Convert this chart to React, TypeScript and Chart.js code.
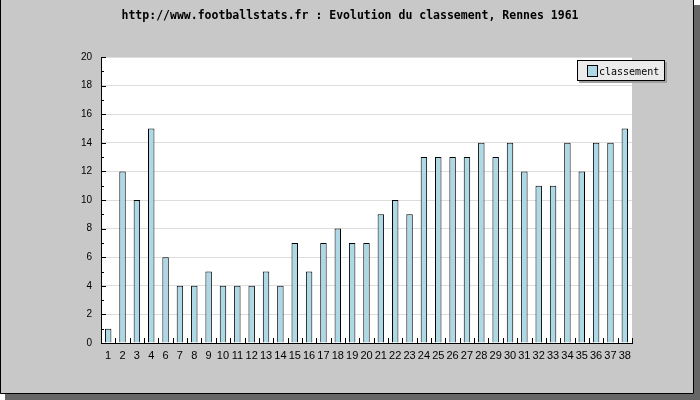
import { useEffect, useRef } from "react";
import { Chart, registerables } from "chart.js";

Chart.register(...registerables);

const titleText = "http://www.footballstats.fr : Evolution du classement, Rennes 1961";
const seriesName = "classement";
const rounds = [
  "1", "2", "3", "4", "6", "7", "8", "9", "10", "11", "12", "13", "14", "15", "16", "17", "18", "19", "20",
  "21", "22", "23", "24", "25", "26", "27", "28", "29", "30", "31", "32", "33", "34", "35", "36", "37", "38",
];
const classement = [
  1, 12, 10, 15, 6, 4, 4, 5, 4, 4, 4, 5, 4, 7, 5, 7, 8, 7, 7, 9, 10, 9, 13, 13, 13, 13, 14, 13, 14, 12, 11, 11,
  14, 12, 14, 14, 15,
];
const yMin = 0;
const yMax = 20;
const yStep = 2;

const BAR_FILL = "#add8e6";
const BG = "#c8c8c8";

const framePlugin = {
  id: "framePlugin",
  beforeDraw(chart: any) {
    const ctx = chart.ctx;
    const W = chart.width;
    const H = chart.height;
    const ca = chart.chartArea;
    ctx.save();
    ctx.fillStyle = "#ffffff";
    ctx.fillRect(0, 0, W, H);
    // shadow
    ctx.fillStyle = "#666666";
    ctx.fillRect(5, H - 6, W - 5, 6);
    ctx.fillRect(W - 6, 5, 6, H - 5);
    // background
    ctx.fillStyle = BG;
    ctx.fillRect(0, 0, W - 6, H - 6);
    ctx.strokeStyle = "#000000";
    ctx.lineWidth = 1;
    ctx.beginPath();
    ctx.moveTo(0.5, 0);
    ctx.lineTo(0.5, H - 6.5);
    ctx.lineTo(W - 6.5, H - 6.5);
    ctx.lineTo(W - 6.5, 0);
    ctx.stroke();
    // plot area
    ctx.fillStyle = "#ffffff";
    ctx.fillRect(ca.left, ca.top, ca.right - ca.left, ca.bottom - ca.top);
    ctx.restore();
  },
  afterDraw(chart: any) {
    const ctx = chart.ctx;
    const ca = chart.chartArea;
    const ys = chart.scales.y;
    const xs = chart.scales.x;
    ctx.save();
    ctx.strokeStyle = "#000000";
    ctx.lineWidth = 1;
    ctx.beginPath();
    for (let v = yMin; v <= yMax; v += 1) {
      const y = Math.round(ys.getPixelForValue(v)) + 0.5;
      const len = v % yStep === 0 ? 5 : 3;
      ctx.moveTo(ca.left, y);
      ctx.lineTo(ca.left + len, y);
    }
    const n = rounds.length;
    for (let i = 1; i <= n; i++) {
      let x: number;
      if (i === n) x = ca.right;
      else x = (xs.getPixelForTick(i - 1) + xs.getPixelForTick(i)) / 2;
      x = Math.round(x) + 0.5;
      ctx.moveTo(x, ca.bottom);
      ctx.lineTo(x, ca.bottom - 5);
    }
    ctx.stroke();

    // title
    ctx.fillStyle = "#000000";
    ctx.font = "bold 11.5px 'DejaVu Sans Mono'";
    ctx.textAlign = "center";
    ctx.textBaseline = "alphabetic";
    ctx.fillText(titleText, 350, 19);

    // legend
    const lx = 577, ly = 60, lw = 88, lh = 21;
    ctx.fillStyle = "#a0a0a0";
    ctx.fillRect(lx + 2, ly + 2, lw, lh);
    ctx.fillStyle = "#ebebeb";
    ctx.fillRect(lx, ly, lw, lh);
    ctx.strokeStyle = "#000000";
    ctx.strokeRect(lx + 0.5, ly + 0.5, lw - 1, lh - 1);
    ctx.fillStyle = BAR_FILL;
    ctx.fillRect(587, 65, 10, 11);
    ctx.strokeRect(587.5, 65.5, 10, 11);
    ctx.fillStyle = "#000000";
    ctx.font = "10px 'DejaVu Sans Mono'";
    ctx.textAlign = "left";
    ctx.fillText(seriesName, 599, 75);
    ctx.restore();
  },
};

export default function App() {
  const ref = useRef<HTMLCanvasElement>(null);
  useEffect(() => {
    if (!ref.current) return;
    const chart = new Chart(ref.current, {
      type: "bar",
      data: {
        labels: rounds,
        datasets: [
          {
            label: seriesName,
            data: classement,
            backgroundColor: BAR_FILL,
            borderColor: "#000000",
            borderWidth: 1,
            barPercentage: 0.45,
            categoryPercentage: 1,
          },
        ],
      },
      options: {
        animation: false,
        responsive: false,
        devicePixelRatio: 1,
        layout: { padding: { left: 0, top: 57, right: 68, bottom: 0 } },
        plugins: {
          legend: { display: false },
          title: { display: false },
          tooltip: { enabled: false },
        },
        scales: {
          x: {
            grid: { display: true, drawOnChartArea: false, drawTicks: false, color: "rgba(0,0,0,0)" },
            border: { display: true, color: "#000000", width: 1 },
            ticks: {
              autoSkip: false,
              maxRotation: 0,
              minRotation: 0,
              padding: 6,
              color: "#000000",
              font: { family: "'Liberation Sans'", size: 11 },
            },
            afterFit(scale: any) {
              scale.height = 57;
            },
          },
          y: {
            min: yMin,
            max: yMax,
            grid: { color: "#dddddd", drawTicks: false },
            border: { display: true, color: "#000000", width: 1 },
            ticks: {
              stepSize: yStep,
              padding: 9,
              color: "#000000",
              font: { family: "'Liberation Sans'", size: 10 },
            },
            afterFit(scale: any) {
              scale.width = 101;
            },
          },
        },
      },
      plugins: [framePlugin],
    });
    return () => chart.destroy();
  }, []);
  return (
    <canvas
      ref={ref}
      width={700}
      height={400}
      style={{ position: "fixed", left: 0, top: 0, width: 700, height: 400 }}
    />
  );
}
